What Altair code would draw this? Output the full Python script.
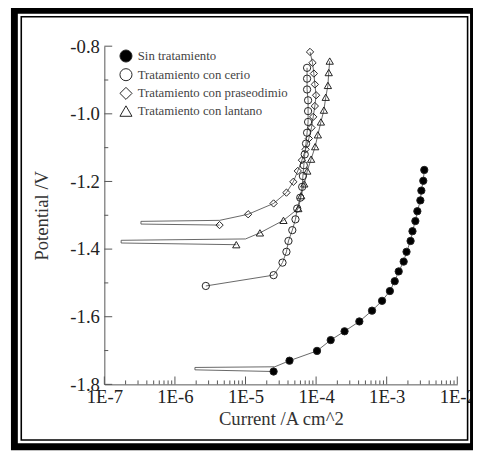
import altair as alt
import pandas as pd

series_names = ["Sin tratamiento", "Tratamiento con cerio",
                "Tratamiento con praseodimio", "Tratamiento con lantano"]

# Sin tratamiento (filled circles)
sin_i = [2.5e-5, 4.2e-5, 1.03e-4, 1.61e-4, 2.53e-4, 4.1e-4, 6.2e-4, 8.6e-4, 1.11e-3,
         1.30e-3, 1.48e-3, 1.74e-3, 1.91e-3, 2.18e-3, 2.32e-3, 2.55e-3, 2.72e-3,
         3.0e-3, 3.1e-3, 3.3e-3, 3.41e-3]
sin_v = [-1.762, -1.730, -1.701, -1.669, -1.643, -1.614, -1.582, -1.553, -1.524,
         -1.495, -1.466, -1.437, -1.408, -1.376, -1.347, -1.317, -1.288,
         -1.256, -1.227, -1.198, -1.166]
sin_tail_i = [1.92e-6, 1.92e-6, 2.6e-5]
sin_tail_v = [-1.757, -1.750, -1.748]

# Tratamiento con cerio (open circles)
ce_i = [2.74e-6, 2.5e-5, 3.34e-5, 3.8e-5, 4.06e-5, 4.6e-5, 5.1e-5, 5.4e-5, 5.96e-5,
        6.35e-5, 6.5e-5, 6.7e-5, 6.9e-5, 7.2e-5, 7.45e-5, 7.7e-5, 7.7e-5, 7.7e-5,
        7.45e-5, 7.45e-5, 7.45e-5]
ce_v = [-1.509, -1.477, -1.440, -1.408, -1.376, -1.344, -1.312, -1.280, -1.248,
        -1.216, -1.184, -1.152, -1.120, -1.088, -1.056, -1.024, -0.992, -0.960,
        -0.928, -0.896, -0.864]
ce_tail_i = []
ce_tail_v = []

# Tratamiento con praseodimio (open diamonds)
pr_i = [4.29e-6, 1.09e-5, 2.5e-5, 3.8e-5, 4.76e-5, 5.5e-5, 6.3e-5, 7.1e-5, 7.9e-5,
        8.6e-5, 9.1e-5, 9.6e-5, 1.0e-4, 9.6e-5, 9.3e-5, 8.9e-5, 8.2e-5]
pr_v = [-1.329, -1.297, -1.265, -1.233, -1.201, -1.169, -1.137, -1.105, -1.073,
        -1.041, -1.009, -0.977, -0.945, -0.913, -0.881, -0.849, -0.817]
pr_tail_i = [3.3e-7, 3.3e-7, 4.3e-6]
pr_tail_v = [-1.326, -1.318, -1.315]

# Tratamiento con lantano (open triangles)
la_i = [7.4e-6, 1.6e-5, 3.45e-5, 5.6e-5, 6.15e-5, 6.8e-5, 7.5e-5, 8.5e-5, 9.7e-5,
        1.06e-4, 1.17e-4, 1.29e-4, 1.37e-4, 1.47e-4, 1.51e-4, 1.56e-4]
la_v = [-1.387, -1.352, -1.315, -1.280, -1.242, -1.207, -1.169, -1.134, -1.097,
        -1.062, -1.024, -0.989, -0.951, -0.916, -0.878, -0.844]
la_tail_i = [1.73e-7, 1.73e-7, 1.0e-5]
la_tail_v = [-1.382, -1.374, -1.370]

# axis ticks
x_major = [1e-7, 1e-6, 1e-5, 1e-4, 1e-3, 1e-2]
x_minor = [m * 10.0 ** e for e in range(-7, -2) for m in range(2, 10)]
y_major = [-1.8, -1.6, -1.4, -1.2, -1.0, -0.8]
y_minor = [-1.7, -1.5, -1.3, -1.1, -0.9]

groups = [
    (series_names[0], sin_i, sin_v, sin_tail_i, sin_tail_v),
    (series_names[1], ce_i, ce_v, ce_tail_i, ce_tail_v),
    (series_names[2], pr_i, pr_v, pr_tail_i, pr_tail_v),
    (series_names[3], la_i, la_v, la_tail_i, la_tail_v),
]

pts_rows, line_rows = [], []
for name, ii, vv, ti, tv in groups:
    for a, b in zip(ii, vv):
        pts_rows.append({"s": name, "i": a, "v": b})
    seq_i = [ii[0]] + ti + ii[1:]
    seq_v = [vv[0]] + tv + vv[1:]
    for k, (a, b) in enumerate(zip(seq_i, seq_v)):
        line_rows.append({"s": name, "i": a, "v": b, "k": k})

pts = pd.DataFrame(pts_rows)
lines = pd.DataFrame(line_rows)

W, H = 359, 344
FONT = "Liberation Serif"

xscale = alt.Scale(type="log", domain=[1e-7, 1e-2], nice=False)
yscale = alt.Scale(domain=[-1.8, -0.8], nice=False, zero=False)

x_axis = alt.Axis(values=x_major, ticks=False, grid=False, labelPadding=3,
                  labelFlush=False,
                  labelExpr="'1E-' + format(-log(datum.value)/LN10, 'd')",
                  labelFont=FONT, titleFont=FONT,
                  title="Current /A cm^2", titlePadding=4)
y_axis = alt.Axis(values=y_major, ticks=False, grid=False, labelPadding=5,
                  labelFlush=False,
                  labelExpr="(datum.value < 0 ? '-' : '') + format(abs(datum.value), '.1f')",
                  labelFont=FONT, titleFont=FONT,
                  title="Potential /V", titlePadding=19)

line_layer = alt.Chart(lines).mark_line(strokeWidth=0.9, color="#555").encode(
    x=alt.X("i:Q", scale=xscale, axis=x_axis),
    y=alt.Y("v:Q", scale=yscale, axis=y_axis),
    detail="s:N",
    order="k:Q",
)

leg = alt.Legend(title=None)
point_layer = alt.Chart(pts).mark_point(filled=True, size=55,
                                        strokeWidth=1, opacity=1).encode(
    x=alt.X("i:Q", scale=xscale),
    y=alt.Y("v:Q", scale=yscale),
    shape=alt.Shape("s:N", scale=alt.Scale(domain=series_names,
                    range=["circle", "circle", "diamond", "triangle-up"]),
                    legend=leg),
    fill=alt.Fill("s:N", scale=alt.Scale(domain=series_names,
                  range=["black", "transparent", "transparent", "transparent"]),
                  legend=leg),
    stroke=alt.Stroke("s:N", scale=alt.Scale(domain=series_names,
                      range=["#222", "#222", "#222", "#222"]),
                      legend=leg),
)

ytick_major = alt.Chart(pd.DataFrame({"v": y_major})).mark_rule(color="#555", strokeWidth=1).encode(
    y=alt.Y("v:Q", scale=yscale), x=alt.value(0), x2=alt.value(8))
ytick_minor = alt.Chart(pd.DataFrame({"v": y_minor})).mark_rule(color="#555", strokeWidth=1).encode(
    y=alt.Y("v:Q", scale=yscale), x=alt.value(0), x2=alt.value(4))
xtick_major = alt.Chart(pd.DataFrame({"i": x_major})).mark_rule(color="#555", strokeWidth=1).encode(
    x=alt.X("i:Q", scale=xscale), y=alt.value(H), y2=alt.value(H - 8))
xtick_minor = alt.Chart(pd.DataFrame({"i": x_minor})).mark_rule(color="#555", strokeWidth=1).encode(
    x=alt.X("i:Q", scale=xscale), y=alt.value(H), y2=alt.value(H - 4))

one = pd.DataFrame({"a": [0]})
frame_outer = alt.Chart(one).mark_rect(filled=False, stroke="black", strokeWidth=7).encode(
    x=alt.value(-91.5), x2=alt.value(375.5), y=alt.value(-36.5), y2=alt.value(407.5))
frame_inner = alt.Chart(one).mark_rect(filled=False, stroke="black", strokeWidth=1.6).encode(
    x=alt.value(-84.5), x2=alt.value(369.5), y=alt.value(-30), y2=alt.value(400.5))

chart = alt.layer(
    line_layer, point_layer, ytick_major, ytick_minor, xtick_major, xtick_minor,
    frame_outer, frame_inner
).properties(
    width=W, height=H,
    autosize=alt.AutoSizeParams(type="none"),
    padding={"left": 98, "top": 35, "right": 16, "bottom": 68},
    background="white",
).configure_view(stroke=None).configure_axis(
    labelFont=FONT, titleFont=FONT, labelFontSize=19, titleFontSize=19,
    labelColor="#222", titleColor="#333", titleFontWeight="normal",
    domainColor="#555", domainWidth=1,
).configure_legend(
    orient="none", legendX=15, legendY=3, padding=0,
    labelFont=FONT, labelFontSize=13, labelColor="#444", labelOffset=5,
    symbolSize=150, symbolStrokeWidth=1,
    rowPadding=1,
)

chart.save("out.html", embed_options={"renderer": "svg", "actions": False})
